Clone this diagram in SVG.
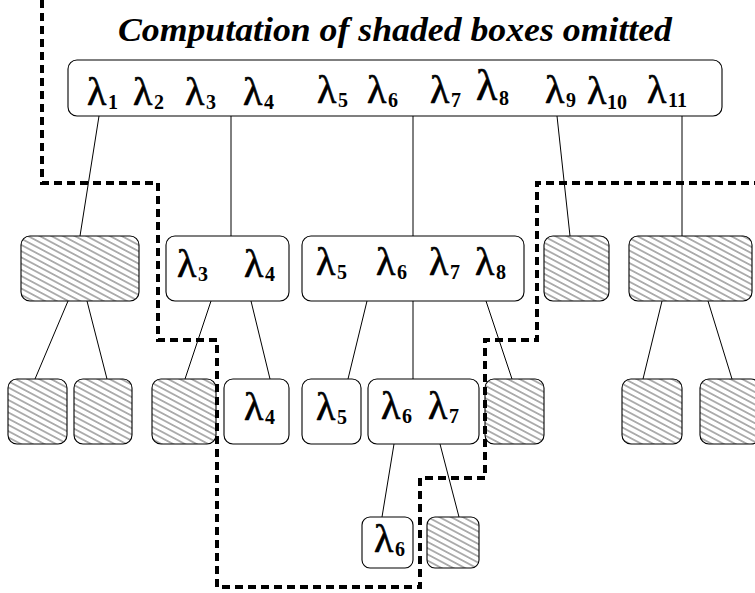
<svg xmlns="http://www.w3.org/2000/svg" width="755" height="593" viewBox="0 0 755 593">
<defs>
<pattern id="hatch" patternUnits="userSpaceOnUse" width="5.5" height="5.5" patternTransform="rotate(28)">
<line x1="0" y1="2.75" x2="5.5" y2="2.75" stroke="#222" stroke-width="0.7"/>
</pattern>
</defs>
<style>
.box{fill:#fff;stroke:#000;stroke-width:1.1}
.sh{fill:url(#hatch);stroke:#000;stroke-width:1.1}
.ln{stroke:#000;stroke-width:1;fill:none}
.cut{stroke:#000;stroke-width:4;fill:none;stroke-dasharray:8 5}
.l{font-family:"Liberation Serif",serif;font-size:40px;stroke:#000;stroke-width:0.6}
.s{font-family:"Liberation Serif",serif;font-size:20px;font-weight:bold}
.t{font-family:"Liberation Serif",serif;font-size:34px;font-style:italic;font-weight:bold}
</style>
<rect width="755" height="593" fill="#fff"/>
<text class="t" x="395" y="41" text-anchor="middle" textLength="554" lengthAdjust="spacingAndGlyphs">Computation of shaded boxes omitted</text>

<g id="connectors">
<line class="ln" x1="99" y1="116" x2="80" y2="236"/>
<line class="ln" x1="231" y1="116" x2="231" y2="236"/>
<line class="ln" x1="413" y1="116" x2="413" y2="236"/>
<line class="ln" x1="557" y1="116" x2="570" y2="236"/>
<line class="ln" x1="682" y1="116" x2="682" y2="236"/>
<line class="ln" x1="68" y1="301" x2="35" y2="379"/>
<line class="ln" x1="87" y1="301" x2="107" y2="379"/>
<line class="ln" x1="211" y1="301" x2="185" y2="379"/>
<line class="ln" x1="251" y1="301" x2="270" y2="379"/>
<line class="ln" x1="367" y1="301" x2="348" y2="379"/>
<line class="ln" x1="413" y1="301" x2="413" y2="379"/>
<line class="ln" x1="486" y1="301" x2="512" y2="379"/>
<line class="ln" x1="662" y1="301" x2="643" y2="379"/>
<line class="ln" x1="708" y1="301" x2="732" y2="379"/>
<line class="ln" x1="394" y1="444" x2="382" y2="517"/>
<line class="ln" x1="440" y1="444" x2="459" y2="517"/>
</g>

<g id="root">
<rect class="box" x="68" y="60" width="654" height="56" rx="9"/>
<text class="l" x="87" y="105">λ</text><text class="s" x="108" y="109">1</text>
<text class="l" x="133" y="105">λ</text><text class="s" x="154" y="109">2</text>
<text class="l" x="185" y="105">λ</text><text class="s" x="206" y="109">3</text>
<text class="l" x="243" y="105">λ</text><text class="s" x="264" y="109">4</text>
<text class="l" x="317" y="103">λ</text><text class="s" x="338" y="107">5</text>
<text class="l" x="367" y="103">λ</text><text class="s" x="388" y="107">6</text>
<text class="l" x="430" y="103">λ</text><text class="s" x="451" y="107">7</text>
<text class="l" x="476" y="100" style="font-size:44px">λ</text><text class="s" x="499" y="105">8</text>
<text class="l" x="545" y="103">λ</text><text class="s" x="566" y="107">9</text>
<text class="l" x="587" y="104">λ</text><text class="s" x="607" y="109">10</text>
<text class="l" x="647" y="103">λ</text><text class="s" x="668" y="107">11</text>
</g>

<g id="n2a"><rect class="sh" x="21" y="236" width="118" height="65" rx="9"/></g>
<g id="n2b">
<rect class="box" x="166" y="236" width="123" height="65" rx="9"/>
<text class="l" x="177" y="277">λ</text><text class="s" x="198" y="281">3</text>
<text class="l" x="244" y="277">λ</text><text class="s" x="265" y="281">4</text>
</g>
<g id="n2c">
<rect class="box" x="302" y="236" width="222" height="65" rx="9"/>
<text class="l" x="316" y="275">λ</text><text class="s" x="337" y="279">5</text>
<text class="l" x="376" y="275">λ</text><text class="s" x="397" y="279">6</text>
<text class="l" x="429" y="275">λ</text><text class="s" x="450" y="279">7</text>
<text class="l" x="475" y="275">λ</text><text class="s" x="496" y="279">8</text>
</g>
<g id="n2d"><rect class="sh" x="544" y="236" width="65" height="65" rx="9"/></g>
<g id="n2e"><rect class="sh" x="629" y="236" width="123" height="65" rx="9"/></g>

<g id="n3a"><rect class="sh" x="8" y="379" width="59" height="65" rx="9"/></g>
<g id="n3b"><rect class="sh" x="74" y="379" width="58" height="65" rx="9"/></g>
<g id="n3c"><rect class="sh" x="152" y="379" width="64" height="65" rx="9"/></g>
<g id="n3d">
<rect class="box" x="224" y="379" width="65" height="65" rx="9"/>
<text class="l" x="244" y="420">λ</text><text class="s" x="265" y="424">4</text>
</g>
<g id="n3e">
<rect class="box" x="302" y="379" width="59" height="65" rx="9"/>
<text class="l" x="316" y="420">λ</text><text class="s" x="337" y="424">5</text>
</g>
<g id="n3f">
<rect class="box" x="368" y="379" width="111" height="65" rx="9"/>
<text class="l" x="381" y="419">λ</text><text class="s" x="402" y="423">6</text>
<text class="l" x="428" y="419">λ</text><text class="s" x="449" y="423">7</text>
</g>
<g id="n3g"><rect class="sh" x="485" y="379" width="59" height="65" rx="9"/></g>
<g id="n3h"><rect class="sh" x="622" y="379" width="60" height="65" rx="9"/></g>
<g id="n3i"><rect class="sh" x="700" y="379" width="60" height="65" rx="9"/></g>

<g id="n4a">
<rect class="box" x="362" y="517" width="51" height="51" rx="8"/>
<text class="l" x="374" y="552">λ</text><text class="s" x="395" y="556">6</text>
</g>
<g id="n4b"><rect class="sh" x="427" y="517" width="52" height="51" rx="8"/></g>

<g id="cutline">
<path class="cut" d="M42,0 V183 H158 V340 H217 V587 H420 V478 H485 V340 H537 V183 H755"/>
</g>
</svg>
